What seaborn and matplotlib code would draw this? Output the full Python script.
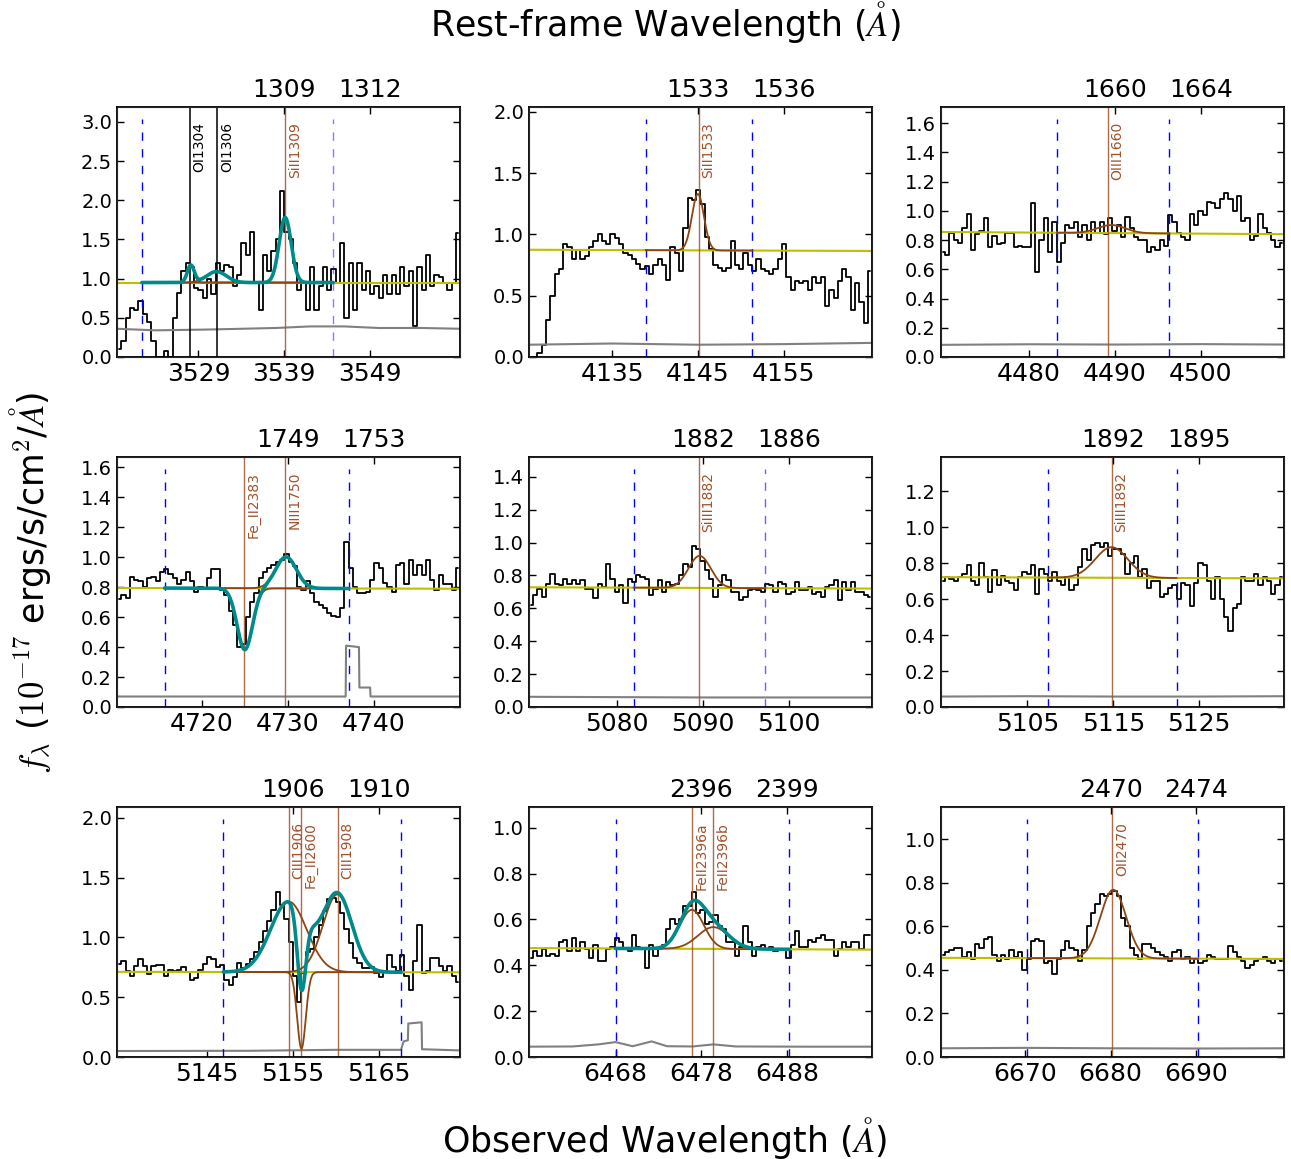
import matplotlib
matplotlib.use("Agg")
import matplotlib.pyplot as plt
import matplotlib.transforms as mtransforms
import seaborn as sns
import numpy as np

# redshift used for the rest-frame axis
one_plus_z = 2.7034
bin_width = 0.5

# ---------------- panel 1 : SiII1309 ----------------
x0_p1 = 3519.5
flux_p1 = [0.1, 0.2, 0.5, 0.62, 0.6, 0.72, 0.55, 0.45, 0.2, 0.0,
           0.0, 0.08, 0.0, 0.5, 0.82, 1.1, 1.2, 1.15, 0.88, 0.85,
           0.75, 1.0, 0.8, 1.2, 1.1, 1.18, 1.15, 0.9, 1.05, 1.45,
           1.3, 1.6, 0.95, 0.6, 1.3, 1.1, 1.35, 1.5, 2.12, 1.6,
           1.5, 1.2, 0.85, 0.95, 0.6, 1.15, 0.6, 0.9, 1.15, 0.85,
           1.12, 0.95, 1.45, 0.5, 1.2, 0.6, 1.2, 0.85, 1.1, 0.8,
           0.9, 0.75, 1.05, 0.8, 1.05, 0.8, 1.15, 0.9, 1.1, 0.4,
           1.15, 0.85, 1.3, 0.9, 1.05, 1.02, 0.95, 0.85, 0.95, 1.58]
err_wave_p1 = [3519.5, 3524, 3530, 3538, 3542, 3546, 3550, 3555, 3559.5]
err_p1 = [0.36, 0.34, 0.35, 0.37, 0.39, 0.39, 0.37, 0.37, 0.36]
cont_p1 = [0.95, 0.95]
dash_p1 = [3522.4, 3544.7]
dash_alpha_p1 = [1.0, 0.5]
lines_p1 = ["OI1304", "OI1306", "SiII1309"]
line_wave_p1 = [3528.0, 3531.2, 3539.1]
line_color_p1 = ["k", "k", "sienna"]
fit_p1 = [(3528.1, 0.22, 0.4), (3531.1, 0.14, 1.15), (3539.1, 0.83, 0.7)]

# ---------------- panel 2 : SiII1533 ----------------
x0_p2 = 4125.3
flux_p2 = [0.0, 0.0, 0.03, 0.1, 0.3, 0.5, 0.68, 0.72, 0.92, 0.9,
           0.8, 0.87, 0.8, 0.82, 0.9, 0.95, 1.0, 0.95, 0.92, 1.0,
           0.97, 0.92, 0.85, 0.83, 0.8, 0.76, 0.72, 0.74, 0.68, 0.75,
           0.8, 0.75, 0.63, 0.9, 0.85, 0.7, 1.05, 1.3, 1.28, 1.36,
           1.25, 0.98, 0.88, 0.75, 0.73, 0.7, 0.73, 0.95, 0.75, 0.72,
           0.85, 0.75, 0.7, 0.8, 0.72, 0.7, 0.68, 0.72, 0.8, 0.92,
           0.65, 0.55, 0.62, 0.6, 0.62, 0.55, 0.65, 0.6, 0.65, 0.42,
           0.55, 0.48, 0.62, 0.72, 0.65, 0.38, 0.6, 0.45, 0.28, 0.7]
err_wave_p2 = [4125.3, 4135, 4145, 4155, 4165.3]
err_p2 = [0.10, 0.11, 0.10, 0.105, 0.115]
cont_p2 = [0.875, 0.865]
dash_p2 = [4138.9, 4151.3]
dash_alpha_p2 = [1.0, 1.0]
lines_p2 = ["SiII1533"]
line_wave_p2 = [4145.1]
line_color_p2 = ["sienna"]
fit_p2 = [(4145.0, 0.46, 0.7)]

# ---------------- panel 3 : OIII1660 ----------------
x0_p3 = 4469.7
flux_p3 = [0.72, 0.7, 0.85, 0.8, 0.78, 0.88, 0.98, 0.73, 0.84, 0.86,
           0.95, 0.75, 0.83, 0.77, 0.78, 0.85, 0.85, 0.75, 0.76, 0.75,
           0.75, 1.05, 0.58, 0.8, 0.95, 0.72, 0.92, 0.65, 0.78, 0.9,
           0.88, 0.92, 0.82, 0.9, 0.8, 0.92, 0.85, 0.92, 0.84, 0.95,
           0.86, 0.9, 0.82, 0.96, 0.88, 0.82, 0.8, 0.8, 0.72, 0.75,
           0.73, 0.8, 0.76, 0.97, 0.92, 0.85, 0.82, 0.8, 0.98, 0.9,
           1.0, 0.97, 1.06, 1.05, 1.02, 1.08, 1.12, 1.08, 1.0, 1.1,
           0.93, 0.95, 0.8, 0.83, 0.98, 0.88, 0.85, 0.8, 0.75, 0.78]
err_wave_p3 = [4469.7, 4480, 4490, 4500, 4509.7]
err_p3 = [0.083, 0.087, 0.085, 0.088, 0.085]
cont_p3 = [0.855, 0.84]
dash_p3 = [4483.2, 4496.3]
dash_alpha_p3 = [1.0, 1.0]
lines_p3 = ["OIII1660"]
line_wave_p3 = [4489.2]
line_color_p3 = ["sienna"]
fit_p3 = [(4489.6, 0.055, 1.6)]

# ---------------- panel 4 : Fe_II2383 / NIII1750 ----------------
x0_p4 = 4710.1
flux_p4 = [0.72, 0.75, 0.73, 0.87, 0.85, 0.84, 0.8, 0.86, 0.87, 0.84,
           0.9, 0.92, 0.89, 0.86, 0.82, 0.85, 0.9, 0.84, 0.77, 0.8,
           0.79, 0.86, 0.92, 0.92, 0.78, 0.75, 0.64, 0.55, 0.4, 0.42,
           0.6, 0.7, 0.76, 0.86, 0.9, 0.93, 0.95, 0.97, 0.98, 1.02,
           0.97, 0.94, 0.8, 0.78, 0.84, 0.76, 0.7, 0.68, 0.66, 0.63,
           0.61, 0.6, 0.66, 1.1, 0.93, 0.8, 0.76, 0.76, 0.77, 0.85,
           0.96, 0.93, 0.83, 0.8, 0.77, 0.95, 0.96, 0.82, 0.98, 0.88,
           0.95, 0.88, 0.98, 0.85, 0.78, 0.88, 0.82, 0.82, 0.78, 0.93]
err_wave_p4 = [4710.1, 4725, 4736.75, 4736.8, 4738.3, 4738.35, 4739.6, 4739.65, 4750.1]
err_p4 = [0.07, 0.07, 0.07, 0.41, 0.40, 0.13, 0.13, 0.07, 0.07]
cont_p4 = [0.795, 0.79]
dash_p4 = [4715.65, 4737.1]
dash_alpha_p4 = [1.0, 1.0]
lines_p4 = ["Fe_II2383", "NIII1750"]
line_wave_p4 = [4724.9, 4729.7]
line_color_p4 = ["sienna", "sienna"]
fit_p4 = [(4725.0, -0.41, 0.9), (4729.8, 0.21, 1.2)]

# ---------------- panel 5 : SiIII1882 ----------------
x0_p5 = 5069.7
flux_p5 = [0.62, 0.68, 0.72, 0.67, 0.75, 0.81, 0.75, 0.74, 0.78, 0.75,
           0.77, 0.75, 0.77, 0.72, 0.72, 0.66, 0.75, 0.73, 0.87, 0.78,
           0.7, 0.74, 0.63, 0.78, 0.76, 0.8, 0.79, 0.78, 0.68, 0.72,
           0.77, 0.7, 0.76, 0.74, 0.75, 0.8, 0.87, 0.85, 0.98, 0.96,
           0.89, 0.83, 0.78, 0.67, 0.74, 0.8, 0.77, 0.7, 0.7, 0.65,
           0.67, 0.71, 0.72, 0.71, 0.7, 0.75, 0.74, 0.7, 0.76, 0.75,
           0.69, 0.7, 0.76, 0.71, 0.71, 0.73, 0.69, 0.7, 0.67, 0.73,
           0.74, 0.77, 0.65, 0.76, 0.71, 0.76, 0.7, 0.7, 0.68, 0.67]
err_wave_p5 = [5069.7, 5080, 5090, 5100, 5109.7]
err_p5 = [0.062, 0.06, 0.058, 0.058, 0.058]
cont_p5 = [0.728, 0.72]
dash_p5 = [5081.9, 5097.2]
dash_alpha_p5 = [1.0, 0.6]
lines_p5 = ["SiIII1882"]
line_wave_p5 = [5089.5]
line_color_p5 = ["sienna"]
fit_p5 = [(5089.6, 0.195, 1.3)]

# ---------------- panel 6 : SiIII1892 ----------------
x0_p6 = 5094.9
flux_p6 = [0.7, 0.72, 0.71, 0.7, 0.72, 0.74, 0.79, 0.7, 0.68, 0.8,
           0.72, 0.64, 0.76, 0.68, 0.73, 0.7, 0.69, 0.65, 0.72, 0.75,
           0.74, 0.79, 0.63, 0.77, 0.74, 0.7, 0.75, 0.7, 0.68, 0.72,
           0.65, 0.68, 0.78, 0.88, 0.82, 0.9, 0.91, 0.89, 0.91, 0.84,
           0.88, 0.88, 0.85, 0.74, 0.8, 0.84, 0.72, 0.77, 0.66, 0.7,
           0.7, 0.61, 0.63, 0.66, 0.68, 0.6, 0.69, 0.68, 0.56, 0.69,
           0.8, 0.79, 0.7, 0.6, 0.72, 0.6, 0.5, 0.42, 0.55, 0.57,
           0.72, 0.7, 0.7, 0.74, 0.68, 0.72, 0.7, 0.63, 0.68, 0.72]
err_wave_p6 = [5094.9, 5105, 5115, 5125, 5134.9]
err_p6 = [0.058, 0.06, 0.058, 0.058, 0.06]
cont_p6 = [0.722, 0.715]
dash_p6 = [5107.4, 5122.4]
dash_alpha_p6 = [1.0, 1.0]
lines_p6 = ["SiIII1892"]
line_wave_p6 = [5114.8]
line_color_p6 = ["sienna"]
fit_p6 = [(5114.8, 0.17, 1.9)]

# ---------------- panel 7 : CIII1906/1908 + Fe_II2600 ----------------
x0_p7 = 5134.5
flux_p7 = [0.78, 0.8, 0.72, 0.68, 0.76, 0.82, 0.76, 0.69, 0.76, 0.77,
           0.77, 0.68, 0.73, 0.72, 0.73, 0.75, 0.71, 0.64, 0.66, 0.73,
           0.78, 0.84, 0.82, 0.75, 0.77, 0.64, 0.6, 0.67, 0.79, 0.74,
           0.78, 0.82, 0.88, 0.96, 1.05, 1.14, 1.23, 1.38, 1.27, 1.15,
           0.96, 0.68, 0.46, 0.7, 0.88, 0.9, 1.0, 1.1, 1.22, 1.32,
           1.33, 1.3, 1.2, 1.07, 0.95, 0.83, 0.79, 0.74, 0.74, 0.75,
           0.7, 0.67, 0.72, 0.85, 0.75, 0.72, 0.85, 0.68, 0.56, 0.8,
           1.1, 0.7, 0.72, 0.83, 0.83, 0.76, 0.72, 0.76, 0.68, 0.63]
err_wave_p7 = [5134.5, 5150, 5160, 5167.6, 5167.9, 5168.4, 5168.45, 5170.0, 5170.05, 5174.5]
err_p7 = [0.05, 0.052, 0.06, 0.06, 0.13, 0.14, 0.28, 0.29, 0.065, 0.055]
cont_p7 = [0.712, 0.708]
dash_p7 = [5146.9, 5167.6]
dash_alpha_p7 = [1.0, 1.0]
lines_p7 = ["CIII1906", "Fe_II2600", "CIII1908"]
line_wave_p7 = [5154.5, 5156.0, 5160.2]
line_color_p7 = ["sienna", "sienna", "sienna"]
fit_p7 = [(5154.5, 0.59, 2.1), (5156.0, -0.64, 0.5), (5160.2, 0.65, 1.7)]

# ---------------- panel 8 : FeII2396a/b ----------------
x0_p8 = 6457.9
flux_p8 = [0.43, 0.46, 0.44, 0.47, 0.44, 0.45, 0.44, 0.5, 0.51, 0.46,
           0.52, 0.46, 0.5, 0.47, 0.43, 0.49, 0.42, 0.42, 0.47, 0.48,
           0.52, 0.5, 0.47, 0.46, 0.53, 0.48, 0.47, 0.39, 0.49, 0.44,
           0.47, 0.49, 0.56, 0.6, 0.58, 0.6, 0.66, 0.66, 0.72, 0.63,
           0.64, 0.58, 0.59, 0.62, 0.57, 0.56, 0.5, 0.5, 0.44, 0.48,
           0.57, 0.5, 0.44, 0.48, 0.49, 0.47, 0.48, 0.46, 0.47, 0.47,
           0.43, 0.49, 0.55, 0.48, 0.48, 0.51, 0.5, 0.52, 0.53, 0.51,
           0.51, 0.44, 0.47, 0.5, 0.48, 0.5, 0.5, 0.47, 0.53, 0.53]
err_wave_p8 = [6457.9, 6463, 6466, 6468, 6470, 6472.2, 6474, 6477, 6479.4, 6482, 6490, 6497.9]
err_p8 = [0.045, 0.046, 0.055, 0.065, 0.047, 0.068, 0.047, 0.046, 0.055, 0.046, 0.045, 0.045]
cont_p8 = [0.475, 0.468]
dash_p8 = [6468.0, 6488.2]
dash_alpha_p8 = [1.0, 1.0]
lines_p8 = ["FeII2396a", "FeII2396b"]
line_wave_p8 = [6476.9, 6479.4]
line_color_p8 = ["sienna", "sienna"]
fit_p8 = [(6476.9, 0.17, 1.4), (6479.4, 0.095, 1.8)]

# ---------------- panel 9 : OII2470 ----------------
x0_p9 = 6660.2
flux_p9 = [0.47, 0.48, 0.49, 0.5, 0.5, 0.46, 0.48, 0.45, 0.52, 0.5,
           0.54, 0.55, 0.47, 0.44, 0.47, 0.45, 0.49, 0.46, 0.48, 0.4,
           0.45, 0.53, 0.54, 0.53, 0.43, 0.44, 0.38, 0.45, 0.49, 0.53,
           0.5, 0.49, 0.44, 0.49, 0.6, 0.66, 0.7, 0.75, 0.74, 0.75,
           0.76, 0.74, 0.64, 0.6, 0.5, 0.47, 0.45, 0.52, 0.52, 0.5,
           0.48, 0.47, 0.46, 0.44, 0.48, 0.49, 0.45, 0.46, 0.43, 0.45,
           0.43, 0.44, 0.47, 0.46, 0.45, 0.45, 0.45, 0.51, 0.48, 0.46,
           0.44, 0.41, 0.42, 0.44, 0.45, 0.46, 0.44, 0.43, 0.45, 0.44]
err_wave_p9 = [6660.2, 6670, 6680, 6690, 6700.2]
err_p9 = [0.04, 0.042, 0.04, 0.039, 0.04]
cont_p9 = [0.455, 0.45]
dash_p9 = [6670.3, 6690.2]
dash_alpha_p9 = [1.0, 1.0]
lines_p9 = ["OII2470"]
line_wave_p9 = [6680.2]
line_color_p9 = ["sienna"]
fit_p9 = [(6680.3, 0.315, 1.5)]

# axis settings per panel: (first x tick, y top, y tick step)
first_tick = [3529, 4135, 4480, 4720, 5080, 5105, 5145, 6468, 6670]
y_top = [3.19, 2.04, 1.71, 1.67, 1.52, 1.39, 2.09, 1.09, 1.147]
y_step = [0.5, 0.5, 0.2, 0.2, 0.2, 0.2, 0.5, 0.2, 0.2]
# panels where the total fit (teal) is drawn
total_fit = [True, False, False, True, False, False, True, True, False]

panels = [
    (x0_p1, flux_p1, err_wave_p1, err_p1, cont_p1, dash_p1, dash_alpha_p1, lines_p1, line_wave_p1, line_color_p1, fit_p1),
    (x0_p2, flux_p2, err_wave_p2, err_p2, cont_p2, dash_p2, dash_alpha_p2, lines_p2, line_wave_p2, line_color_p2, fit_p2),
    (x0_p3, flux_p3, err_wave_p3, err_p3, cont_p3, dash_p3, dash_alpha_p3, lines_p3, line_wave_p3, line_color_p3, fit_p3),
    (x0_p4, flux_p4, err_wave_p4, err_p4, cont_p4, dash_p4, dash_alpha_p4, lines_p4, line_wave_p4, line_color_p4, fit_p4),
    (x0_p5, flux_p5, err_wave_p5, err_p5, cont_p5, dash_p5, dash_alpha_p5, lines_p5, line_wave_p5, line_color_p5, fit_p5),
    (x0_p6, flux_p6, err_wave_p6, err_p6, cont_p6, dash_p6, dash_alpha_p6, lines_p6, line_wave_p6, line_color_p6, fit_p6),
    (x0_p7, flux_p7, err_wave_p7, err_p7, cont_p7, dash_p7, dash_alpha_p7, lines_p7, line_wave_p7, line_color_p7, fit_p7),
    (x0_p8, flux_p8, err_wave_p8, err_p8, cont_p8, dash_p8, dash_alpha_p8, lines_p8, line_wave_p8, line_color_p8, fit_p8),
    (x0_p9, flux_p9, err_wave_p9, err_p9, cont_p9, dash_p9, dash_alpha_p9, lines_p9, line_wave_p9, line_color_p9, fit_p9),
]

sns.set_style("ticks", {"xtick.direction": "in", "ytick.direction": "in"})
plt.rcParams["font.family"] = ["DejaVu Sans"]
plt.rcParams["mathtext.fontset"] = "cm"
plt.rcParams["text.color"] = "k"
plt.rcParams["xtick.color"] = "k"
plt.rcParams["ytick.color"] = "k"
plt.rcParams["axes.labelcolor"] = "k"

fig, axes = plt.subplots(3, 3, figsize=(12.91, 11.59), dpi=100)
fig.subplots_adjust(left=0.0906, right=0.9946, top=0.9077, bottom=0.088, wspace=0.20, hspace=0.40)

for i, ax in enumerate(axes.flat):
    x0, flux, ew, ev, cont, dash, dash_alpha, names, lwave, lcol, fit = panels[i]
    xlim = (x0, x0 + 40.0)
    wave = x0 + bin_width / 2 + bin_width * np.arange(len(flux))

    # spectrum and error
    sns.lineplot(x=wave, y=flux, drawstyle="steps-mid", color="k", linewidth=1.3,
                 estimator=None, ax=ax)
    sns.lineplot(x=ew, y=ev, color="grey", linewidth=1.5, estimator=None, sort=False, ax=ax)

    # continuum
    sns.lineplot(x=list(xlim), y=cont, color=(0.75, 0.75, 0.0), linewidth=1.5, ax=ax)

    # fitting window
    for d, a in zip(dash, dash_alpha):
        ax.axvline(d, ymin=0, ymax=0.95, color="b", linestyle=(0, (6, 6)), linewidth=1.0, alpha=a)

    # line markers with labels
    lab_tr = mtransforms.blended_transform_factory(ax.transData, ax.transAxes)
    for name, w, c in zip(names, lwave, lcol):
        ax.axvline(w, color=c, linewidth=1.1 if c == "k" else 1.0, alpha=1.0 if c == "k" else 0.85)
        ax.text(w + 0.3, 0.94, name, rotation=90, ha="left", va="top", fontsize=10,
                color=c, transform=lab_tr)

    # gaussian fit components
    xf = np.linspace(dash[0], dash[1], 400)
    base = np.interp(xf, xlim, cont)
    total = base.copy()
    for cen, amp, sig in fit:
        comp = amp * np.exp(-0.5 * ((xf - cen) / sig) ** 2)
        total += comp
        sns.lineplot(x=xf, y=base + comp, color="saddlebrown", linewidth=1.3, ax=ax)
    if total_fit[i]:
        sns.lineplot(x=xf, y=total, color="darkcyan", linewidth=2.6, ax=ax)

    ticks = [first_tick[i] + 10 * k for k in range(3)]
    ax.set_xlim(xlim)
    ax.set_ylim(0, y_top[i])
    ax.set_xticks(ticks)
    ax.set_yticks(np.arange(0, y_top[i] + 1e-6, y_step[i]))
    ax.yaxis.set_major_formatter(matplotlib.ticker.FormatStrFormatter("%.1f"))
    ax.tick_params(axis="x", labelsize=18, direction="in", length=5, width=1, top=False)
    ax.tick_params(axis="y", labelsize=14, direction="in", length=5, width=1, right=True)
    for s in ax.spines.values():
        s.set_linewidth(1.3)
        s.set_color("k")

    # rest-frame axis on top
    axt = ax.twiny()
    axt.set_xlim(xlim)
    axt.set_xticks(ticks[1:])
    axt.set_xticklabels([str(int(t / one_plus_z)) for t in ticks[1:]])
    axt.tick_params(axis="x", labelsize=18, direction="in", length=5, width=1)

fig.text(0.515, 0.981, r"Rest-frame Wavelength ($\AA$)", ha="center", va="center", fontsize=25)
fig.text(0.515, 0.018, r"Observed Wavelength ($\AA$)", ha="center", va="center", fontsize=25)
fig.text(0.023, 0.497, r"$f_\lambda$ ($10^{-17}$ ergs/s/cm$^2$/$\AA$)", ha="center", va="center",
         rotation=90, fontsize=25)

plt.savefig("out.png", dpi=100)
